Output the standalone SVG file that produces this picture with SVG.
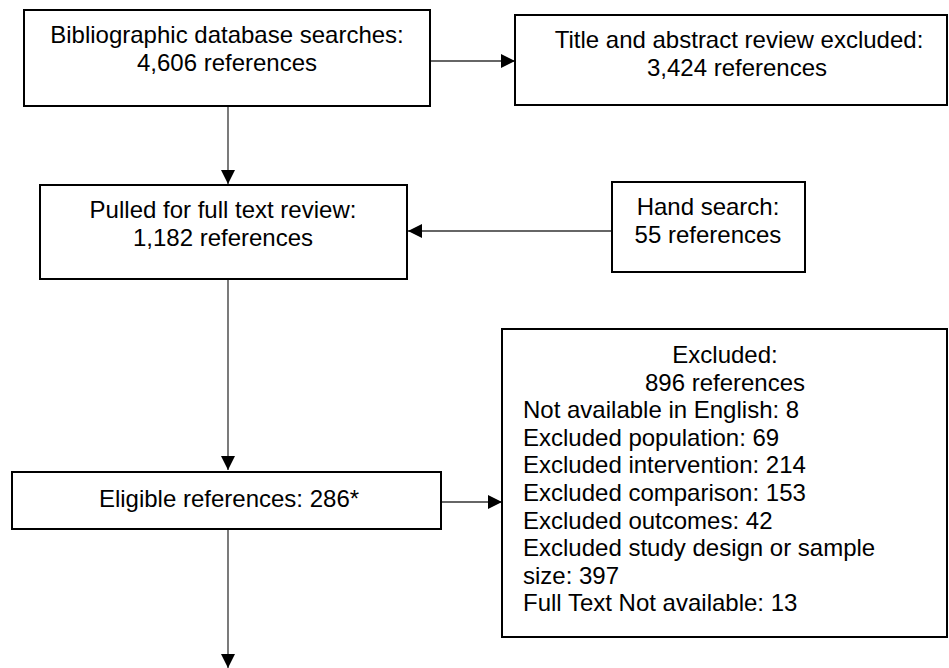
<svg xmlns="http://www.w3.org/2000/svg" width="949" height="668" viewBox="0 0 949 668">
<style>
.box{fill:#fff;stroke:#000;stroke-width:2}
.t{font-family:"Liberation Sans",Arial,sans-serif;font-size:24px;fill:#000}
.c{text-anchor:middle}
.ln{stroke:#333;stroke-width:1.3;fill:none;marker-end:url(#ah)}
</style>
<defs>
<marker id="ah" markerUnits="userSpaceOnUse" markerWidth="15" markerHeight="15" refX="14" refY="7" orient="auto">
<path d="M0,0 L14,7 L0,14 z" fill="#000"/>
</marker>
</defs>
<g id="connectors">
<line class="ln" x1="430" y1="61" x2="515" y2="61"/>
<line class="ln" x1="228" y1="106" x2="228" y2="184"/>
<line class="ln" x1="611" y1="231" x2="408" y2="231"/>
<line class="ln" x1="228" y1="279" x2="228" y2="470"/>
<line class="ln" x1="441" y1="502" x2="502" y2="502"/>
<line class="ln" x1="228" y1="529" x2="228" y2="668"/>
</g>
<g id="n1">
<rect class="box" x="24" y="10" width="406" height="96"/>
<text class="t c" x="227" y="43">Bibliographic database searches:</text>
<text class="t c" x="227" y="70.6">4,606 references</text>
</g>
<g id="n2">
<rect class="box" x="515" y="15" width="432" height="90"/>
<text class="t c" x="739" y="48">Title and abstract review excluded:</text>
<text class="t c" x="737" y="75.6">3,424 references</text>
</g>
<g id="n3">
<rect class="box" x="40" y="185" width="367" height="94"/>
<text class="t c" x="223" y="218">Pulled for full text review:</text>
<text class="t c" x="223" y="245.6">1,182 references</text>
</g>
<g id="n4">
<rect class="box" x="612" y="182" width="193" height="90"/>
<text class="t c" x="708" y="215">Hand search:</text>
<text class="t c" x="708" y="242.6">55 references</text>
</g>
<g id="n5">
<rect class="box" x="12" y="472" width="429" height="57"/>
<text class="t c" x="229" y="507">Eligible references: 286*</text>
</g>
<g id="n6">
<rect class="box" x="502" y="329" width="445" height="308"/>
<text class="t c" x="725" y="363">Excluded:</text>
<text class="t c" x="725" y="390.6">896 references</text>
<text class="t" x="523" y="418.2">Not available in English: 8</text>
<text class="t" x="523" y="445.8">Excluded population: 69</text>
<text class="t" x="523" y="473.4">Excluded intervention: 214</text>
<text class="t" x="523" y="501">Excluded comparison: 153</text>
<text class="t" x="523" y="528.6">Excluded outcomes: 42</text>
<text class="t" x="523" y="556.2">Excluded study design or sample</text>
<text class="t" x="523" y="583.8">size: 397</text>
<text class="t" x="523" y="611.4">Full Text Not available: 13</text>
</g>
</svg>
